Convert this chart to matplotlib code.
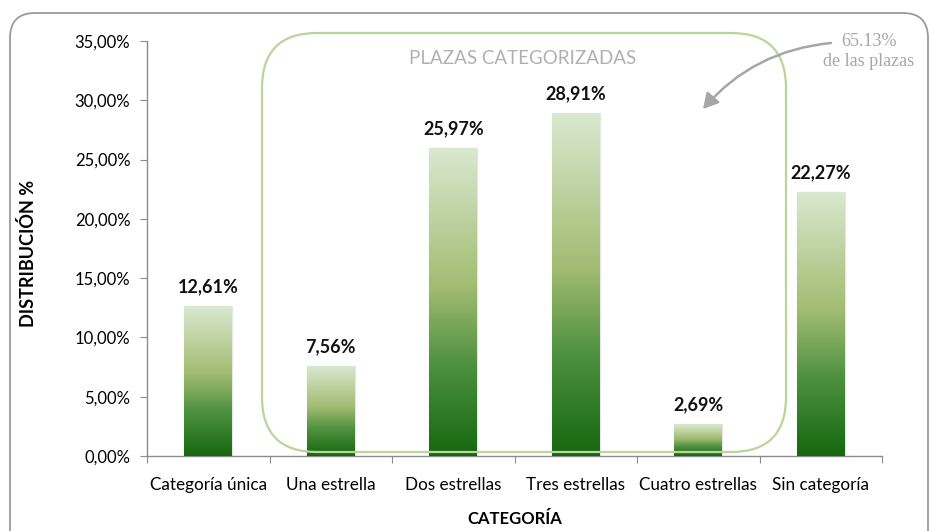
import numpy as np
import matplotlib
matplotlib.use("Agg")
import matplotlib.pyplot as plt
from matplotlib.patches import FancyBboxPatch, FancyArrowPatch
from matplotlib.colors import LinearSegmentedColormap

categories = ["Categoría única", "Una estrella", "Dos estrellas", "Tres estrellas",
              "Cuatro estrellas", "Sin categoría"]
values = [12.61, 7.56, 25.97, 28.91, 2.69, 22.27]
value_labels = ["12,61%", "7,56%", "25,97%", "28,91%", "2,69%", "22,27%"]
yticks = [0, 5, 10, 15, 20, 25, 30, 35]
ytick_labels = ["0,00%", "5,00%", "10,00%", "15,00%", "20,00%", "25,00%", "30,00%", "35,00%"]

FONT = ["Lato", "DejaVu Sans"]
plt.rcParams["font.family"] = FONT

W, H = 932, 531
fig = plt.figure(figsize=(W / 100, H / 100), dpi=100)

# overlay axes in pixel coordinates for decorations
ov = fig.add_axes([0, 0, 1, 1], zorder=0)
ov.set_xlim(0, W)
ov.set_ylim(H, 0)
ov.axis("off")
ov.add_patch(FancyBboxPatch((10, 13), 918, 560, boxstyle="round,pad=0,rounding_size=25",
                            fc="none", ec="#9a9a9a", lw=1.3))

ax = fig.add_axes([147 / W, 1 - 456 / H, (882 - 147) / W, (456 - 41) / H], zorder=1)
ax.patch.set_alpha(0)

cmap = LinearSegmentedColormap.from_list(
    "g", [(0.0, "#15680f"), (0.3, "#4f9140"), (0.55, "#a2bc72"), (1.0, "#dae8cf")])
grad = np.linspace(0, 1, 256).reshape(-1, 1)

x = np.arange(len(categories))
bw = 0.39
bars = ax.bar(x, values, width=bw, color="none", edgecolor="#e6e6e6", lw=1.0, zorder=2)
for b, v in zip(bars, values):
    bx = b.get_x()
    im = ax.imshow(grad, cmap=cmap, origin="lower", aspect="auto",
                   extent=(bx, bx + b.get_width(), 0, v), zorder=3)
    im.set_clip_path(b)

for xi, v, lab in zip(x, values, value_labels):
    ax.annotate(lab, (xi, v), xytext=(0, 8), textcoords="offset points",
                ha="center", va="bottom", fontsize=13, fontweight="bold", color="#111111")

ax.set_xlim(-0.5, len(categories) - 0.5)
ax.set_ylim(0, 35)
ax.set_yticks(yticks)
ax.set_yticklabels(ytick_labels, fontsize=12)
ax.set_xticks(np.arange(-0.5, len(categories), 1.0))
ax.set_xticklabels([])
ax.set_xticks(x, minor=True)
ax.set_xticklabels(categories, minor=True, fontsize=12.3)
ax.tick_params(axis="x", which="minor", length=0, pad=15)
ax.tick_params(axis="x", which="major", length=5, color="#8c8c8c")
ax.tick_params(axis="y", length=5, color="#8c8c8c", pad=7)
for s in ["top", "right"]:
    ax.spines[s].set_visible(False)
for s in ["left", "bottom"]:
    ax.spines[s].set_color("#8c8c8c")
    ax.spines[s].set_linewidth(1.0)

ax.set_ylabel("DISTRIBUCIÓN %", fontsize=13, fontweight="bold")
ax.yaxis.set_label_coords(-0.149, 0.487)
ax.set_xlabel("CATEGORÍA", fontsize=12, fontweight="bold")
ax.xaxis.set_label_coords(0.5, -0.133)

# green rounded box and annotations on top
top = fig.add_axes([0, 0, 1, 1], zorder=3)
top.set_xlim(0, W)
top.set_ylim(H, 0)
top.axis("off")
top.add_patch(FancyBboxPatch((262, 33), 524, 419, boxstyle="round,pad=0,rounding_size=55",
                             fc="none", ec="#b9d597", lw=1.6))
top.text(523, 58, "PLAZAS CATEGORIZADAS", ha="center", va="center",
         fontsize=13.5, color="#b0b0b0")
top.text(869, 41, "65.13%", ha="center", va="center", fontsize=13,
         family=["Liberation Serif", "DejaVu Serif"], color="#a6a6a6")
top.text(869, 62, "de las plazas", ha="center", va="center", fontsize=13,
         family=["Liberation Serif", "DejaVu Serif"], color="#a6a6a6")
top.add_patch(FancyArrowPatch((831, 43), (703, 109), connectionstyle="arc3,rad=0.2",
                              arrowstyle="-|>,head_length=9,head_width=5",
                              color="#a6a6a6", lw=1.8, shrinkA=0, shrinkB=0))

fig.savefig("out.png", dpi=100)
